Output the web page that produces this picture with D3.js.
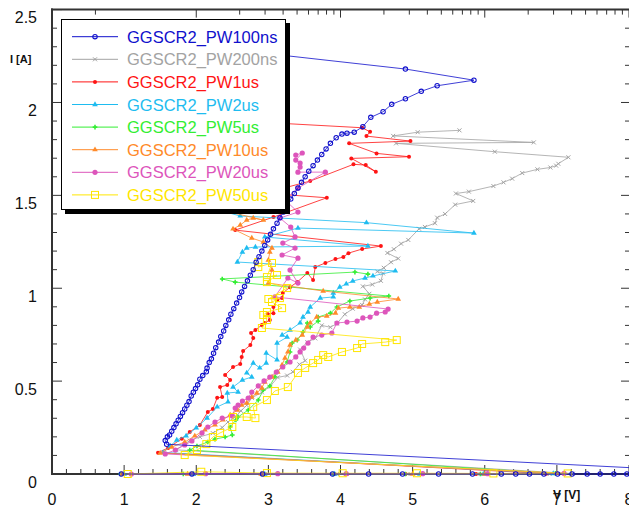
<!DOCTYPE html>
<html><head><meta charset="utf-8">
<script src="https://cdn.jsdelivr.net/npm/d3@7"></script>
<style>body{margin:0;background:#fff}svg{display:block}text{font-family:"Liberation Sans",Arial,sans-serif}</style>
</head><body><svg id="c" width="629" height="508"></svg>
<script>
// ---------- data ----------
const xTickLabels = [0,1,2,3,4,5,6,7,8];
const yTickLabels = [0,0.5,1,1.5,2,2.5];
const seriesNames = ["GGSCR2_PW100ns","GGSCR2_PW200ns","GGSCR2_PW1us","GGSCR2_PW2us","GGSCR2_PW5us","GGSCR2_PW10us","GGSCR2_PW20us","GGSCR2_PW50us"];

const pw100ns = [[0.96,0],[1.94,0],[2.92,0],[3.89,0],[4.39,0],[4.86,0],[5.36,0],[5.83,0],[6.23,0],[6.43,0],[6.62,0],[6.82,0],[7.01,0],[7.21,0],[7.42,0],[7.6,0],[7.79,0],[7.97,0],[8.2,0.002],[8.5,0.003],[8.8,0.004],[9.1,0.004],[9.5,0.005],
[1.59,0.16],[1.57,0.18],[1.60,0.20],[1.63,0.21],[1.66,0.23],[1.69,0.25],[1.72,0.27],[1.75,0.29],[1.78,0.31],[1.81,0.33],[1.84,0.35],[1.87,0.37],[1.90,0.39],[1.93,0.42],[1.96,0.44],[1.99,0.46],[2.02,0.48],[2.05,0.51],[2.09,0.53],[2.14,0.55],[2.15,0.57],[2.18,0.60],[2.21,0.62],[2.24,0.65],[2.27,0.68],[2.31,0.71],[2.34,0.74],[2.38,0.77],[2.41,0.80],[2.45,0.83],[2.48,0.86],[2.52,0.89],[2.56,0.92],[2.60,0.95],[2.63,0.98],[2.67,1.01],[2.71,1.04],[2.75,1.07],[2.79,1.10],[2.83,1.14],[2.87,1.17],[2.91,1.20],[2.95,1.23],[2.99,1.26],[3.03,1.29],[3.07,1.32],[3.12,1.35],[3.16,1.38],[3.21,1.41],[3.26,1.44],[3.31,1.48],[3.36,1.51],[3.41,1.54],[3.46,1.57],[3.51,1.60],[3.56,1.63],[3.62,1.66],[3.68,1.69],[3.74,1.72],[3.80,1.75],[3.86,1.78],[3.94,1.81],[4.02,1.83],[4.09,1.835],[4.19,1.84],[4.31,1.87],[4.42,1.92],[4.59,1.95],[4.71,1.99],[4.90,2.02],[5.12,2.06],[5.34,2.09],[5.85,2.12],[4.90,2.18],[2.60,2.28]];

const pw200ns = [[0.98,0],[1.97,0],[2.95,0],[3.95,0],[4.93,0],[5.9,0],[6.9,0],[7.22,0.002],
[1.72,0.13],[1.91,0.18],[2.05,0.20],[2.23,0.22],[2.36,0.25],[2.44,0.28],[2.55,0.31],[2.62,0.34],[2.70,0.37],[2.77,0.41],[2.91,0.44],[3.02,0.47],[3.13,0.52],[3.26,0.53],[3.34,0.55],[3.43,0.59],[3.51,0.61],[3.44,0.67],[3.54,0.71],[3.65,0.73],[3.74,0.80],[3.86,0.79],[3.95,0.81],[4.06,0.86],[4.17,0.89],[4.30,0.91],[4.34,0.94],[4.40,0.97],[4.31,1.01],[4.44,1.02],[4.56,1.04],[4.59,1.08],[4.51,1.09],[4.60,1.11],[4.70,1.14],[4.80,1.16],[4.65,1.19],[4.74,1.21],[4.84,1.24],[4.94,1.26],[5.09,1.32],[5.17,1.33],[5.31,1.35],[5.34,1.38],[5.45,1.40],[5.59,1.45],[5.84,1.47],[5.60,1.51],[5.78,1.52],[6.12,1.55],[6.26,1.57],[6.38,1.59],[6.52,1.62],[6.73,1.64],[6.91,1.65],[6.99,1.66],[7.02,1.67],[7.16,1.705],[6.14,1.735],[4.77,1.78],[6.68,1.785],[4.73,1.82],[5.07,1.84],[5.65,1.85]];

const pw1us = [[0.97,0],[1.95,0],[2.93,0],[3.92,0],[4.9,0],[5.88,0],[6.85,0.002],
[1.47,0.115],[1.61,0.14],[1.80,0.19],[1.91,0.226],[2.05,0.264],[2.16,0.334],[2.23,0.35],[2.29,0.41],[2.36,0.414],[2.33,0.468],[2.43,0.479],[2.47,0.506],[2.40,0.533],[2.51,0.576],[2.61,0.592],[2.63,0.63],[2.65,0.662],[2.75,0.694],[2.79,0.732],[2.76,0.759],[2.82,0.775],[2.91,0.802],[2.95,0.813],[3.02,0.829],[2.99,0.861],[3.07,0.866],[3.07,0.899],[3.12,0.936],[3.19,0.947],[3.20,0.974],[3.30,1.006],[3.40,1.033],[3.54,1.082],[3.62,1.044],[3.65,1.114],[3.79,1.136],[3.93,1.157],[4.04,1.168],[4.11,1.189],[4.30,1.211],[4.56,1.227],[2.54,1.313],[3.07,1.383],[3.81,1.487],[2.95,1.512],[3.58,1.577],[4.18,1.667],[4.35,1.663],[4.49,1.627],[4.15,1.699],[4.95,1.708],[4.50,1.726],[4.12,1.78],[4.97,1.792],[4.36,1.819],[4.41,1.842],[4.30,1.864],[2.88,1.894]];

const pw2us = [[1.0,0],[1.96,0],[2.95,0],[3.92,0],[5.1,0],[5.98,0],[6.95,0.002],
[1.54,0.116],[1.64,0.151],[1.73,0.183],[1.86,0.205],[2.00,0.248],[2.15,0.301],[2.29,0.361],[2.44,0.388],[2.43,0.436],[2.58,0.441],[2.51,0.468],[2.64,0.506],[2.77,0.522],[2.70,0.544],[2.79,0.597],[2.88,0.571],[2.97,0.597],[2.97,0.651],[3.12,0.614],[3.12,0.705],[3.26,0.737],[3.19,0.748],[3.30,0.775],[3.44,0.813],[3.48,0.845],[3.55,0.872],[3.58,0.899],[3.72,0.947],[3.90,0.953],[3.90,0.974],[3.99,1.006],[4.08,1.023],[4.17,1.039],[4.34,1.055],[4.45,1.066],[4.76,1.093],[2.57,1.141],[2.64,1.195],[2.70,1.216],[2.82,1.222],[4.38,1.227],[2.95,1.276],[3.41,1.324],[5.85,1.297],[4.36,1.353],[2.61,1.389],[2.05,1.448]];

const pw5us = [[0.95,0],[1.82,0],[2.9,0],[3.9,0],[4.9,0],[5.94,0],[6.98,0.003],
[1.91,0.129],[2.01,0.151],[2.16,0.172],[2.26,0.188],[2.40,0.199],[2.50,0.21],[2.47,0.253],[2.55,0.291],[2.58,0.307],[2.72,0.344],[2.86,0.398],[2.93,0.452],[3.02,0.474],[3.09,0.522],[3.12,0.549],[3.26,0.603],[3.30,0.657],[3.33,0.705],[3.40,0.721],[3.48,0.764],[3.54,0.813],[3.58,0.791],[3.69,0.823],[3.69,0.845],[3.86,0.866],[3.95,0.899],[4.13,0.931],[4.41,0.947],[4.67,0.958],[2.54,1.033],[2.36,1.05],[4.20,1.087],[4.38,1.076]];

const pw10us = [[0.97,0],[1.88,0],[2.9,0],[4.08,0],[5.0,0],[6.0,0],[7.0,0.003],
[1.50,0.113],[1.66,0.145],[1.84,0.172],[1.98,0.205],[2.12,0.237],[2.26,0.264],[2.37,0.291],[2.47,0.318],[2.57,0.344],[2.63,0.371],[2.70,0.382],[2.77,0.414],[2.84,0.436],[2.91,0.463],[2.95,0.495],[3.05,0.522],[3.13,0.549],[3.19,0.587],[3.23,0.624],[3.27,0.657],[3.30,0.694],[3.38,0.721],[3.47,0.748],[3.54,0.791],[3.58,0.813],[3.67,0.845],[3.81,0.850],[3.93,0.866],[3.97,0.893],[4.13,0.899],[4.26,0.899],[4.40,0.915],[4.51,0.926],[4.80,0.942],[3.76,0.985],[3.00,1.028],[3.05,1.098],[3.00,1.152],[3.02,1.195],[3.05,1.216],[2.93,1.249],[2.77,1.270],[2.51,1.319],[2.61,1.340],[2.70,1.367],[2.79,1.378],[2.93,1.367],[2.05,1.448]];

const pw20us = [[1.1,0],[2.13,0.002],[3.13,0.002],[4.08,0.002],[5.14,0.002],[6.04,0.002],[7.1,0.003],
[1.57,0.108],[1.71,0.129],[1.84,0.156],[1.94,0.178],[2.08,0.221],[2.16,0.253],[2.26,0.28],[2.36,0.301],[2.50,0.312],[2.54,0.355],[2.58,0.371],[2.64,0.393],[2.72,0.409],[2.77,0.441],[2.86,0.474],[2.94,0.501],[3.02,0.522],[3.11,0.549],[3.20,0.576],[3.30,0.603],[3.38,0.630],[3.44,0.657],[3.49,0.678],[3.55,0.705],[3.62,0.737],[3.74,0.748],[3.88,0.759],[3.95,0.813],[4.09,0.818],[4.23,0.823],[4.31,0.84],[4.41,0.845],[4.50,0.866],[4.62,0.872],[4.66,0.888],[3.09,0.953],[3.27,1.055],[3.41,1.028],[3.30,1.098],[3.41,1.162],[3.19,1.179],[3.37,1.216],[3.20,1.243],[3.37,1.276],[3.31,1.329],[3.16,1.378],[3.41,1.410],[3.23,1.475],[3.41,1.539],[3.79,1.625],[3.41,1.625],[3.44,1.652],[3.44,1.674],[3.38,1.69],[3.47,1.728],[3.38,1.717]];

const pw50us = [[1.05,0],[2.07,0.012],[2.98,0.005],[4.03,0.004],[5.06,0.004],[6.12,0.003],[7.15,0.003],
[1.84,0.102],[2.01,0.129],[2.14,0.161],[2.23,0.199],[2.33,0.221],[2.50,0.253],[2.51,0.307],[2.70,0.307],[2.82,0.301],[2.79,0.361],[2.98,0.398],[3.09,0.447],[3.27,0.468],[3.41,0.544],[3.51,0.571],[3.62,0.597],[3.69,0.614],[3.76,0.64],[3.83,0.63],[4.02,0.657],[4.23,0.678],[4.30,0.70],[4.62,0.71],[4.78,0.721],[2.91,0.786],[2.98,0.829],[2.93,0.856],[2.98,0.872],[3.19,0.893],[3.05,0.926],[3.16,0.947],[3.00,0.942],[3.26,1.001],[2.98,1.033],[3.12,1.071],[2.98,1.060],[3.05,1.136],[2.86,1.114],[2.86,1.141]];

// ---------- styles ----------
const seriesData = [pw100ns,pw200ns,pw1us,pw2us,pw5us,pw10us,pw20us,pw50us];
const seriesColors = ["#1010cc","#a3a3a3","#ff1414","#1ebcf0","#33ee33","#ff8a2a","#dd55bb","#ffe600"];
const seriesMarkers = ["circleOpen","x","dot","tri","plus","tri","dotBig","square"];
const drawOrder = [1,2,3,4,5,6,7,0];

const svg = d3.select("#c");
const x = d3.scaleLinear().domain([0,8]).range([52,629]);
const y = d3.scaleLinear().domain([0,2.5]).range([474,9.6]);
const topLog = d3.scaleLog().domain([1e-12,1e-8]).range([52,629]);

svg.append("defs").append("clipPath").attr("id","pc").append("rect")
  .attr("x",45).attr("y",5).attr("width",600).attr("height",477);

function marker(sel, type, color){
  switch(type){
    case "circleOpen": sel.append("circle").attr("r",2.2).attr("fill","none").attr("stroke",color).attr("stroke-width",1.1); break;
    case "x": sel.append("path").attr("d","M-2,-2L2,2M-2,2L2,-2").attr("stroke",color).attr("stroke-width",1); break;
    case "dot": sel.append("circle").attr("r",2).attr("fill",color); break;
    case "tri": sel.append("path").attr("d",d3.symbol(d3.symbolTriangle,14)()).attr("fill",color); break;
    case "plus": sel.append("path").attr("d",d3.symbol(d3.symbolCross,12)()).attr("fill",color); break;
    case "dotBig": sel.append("circle").attr("r",2.6).attr("fill",color); break;
    case "square": sel.append("rect").attr("x",-3.5).attr("y",-3.5).attr("width",7).attr("height",7).attr("fill","none").attr("stroke",color).attr("stroke-width",1); break;
  }
}

// ---------- axes ----------
const ax = svg.append("g").attr("stroke","#333").attr("fill","none");
d3.range(0,26).forEach(i=>{
  const v=i/10, major = i%5===0;
  ax.append("line").attr("x1",x(0)).attr("x2",x(0)+(major?10:5)).attr("y1",y(v)).attr("y2",y(v));
  ax.append("line").attr("x1",x(8)).attr("x2",x(8)-(major?8:4)).attr("y1",y(v)).attr("y2",y(v));
});
d3.range(0,41).forEach(i=>{
  const v=i/5, major=i%5===0;
  ax.append("line").attr("x1",x(v)).attr("x2",x(v)).attr("y1",y(0)).attr("y2",y(0)-(major?9:5));
});
topLog.ticks().filter(t=>t>=1e-11 || Math.abs(t-2e-12)<1e-15 || Math.abs(t-1e-12)<1e-15).forEach(t=>{
  const p = Math.log10(t), major = Math.abs(p-Math.round(p))<1e-6;
  ax.append("line").attr("x1",topLog(t)).attr("x2",topLog(t)).attr("y1",y(2.5)).attr("y2",y(2.5)+(major?8:5));
});
ax.append("line").attr("x1",x(0)).attr("x2",x(0)).attr("y1",y(0)+1).attr("y2",y(2.5)-1).attr("stroke-width",2);
ax.append("line").attr("x1",x(0)-1).attr("x2",x(8)).attr("y1",y(0)).attr("y2",y(0)).attr("stroke-width",2);
ax.append("line").attr("x1",x(0)-1).attr("x2",x(8)).attr("y1",y(2.5)).attr("y2",y(2.5)).attr("stroke-width",2);

svg.append("g").selectAll("text").data(yTickLabels).join("text")
  .attr("x",37).attr("y",d=>y(d)+13.5).attr("text-anchor","end")
  .attr("font-size",16).attr("fill","#111").text(d=>d);
svg.append("g").selectAll("text").data(xTickLabels).join("text")
  .attr("x",d=>x(d)).attr("y",505).attr("text-anchor","middle")
  .attr("font-size",16).attr("fill","#111").text(d=>d);
svg.append("text").attr("x",10).attr("y",63).attr("font-size",11).attr("font-weight","bold").attr("fill","#111").text("I [A]");
svg.append("text").attr("x",553).attr("y",499).attr("font-size",12).attr("font-weight","bold").attr("fill","#111").text("V [V]");

// ---------- series ----------
const plot = svg.append("g").attr("clip-path","url(#pc)");
const line = d3.line().x(d=>x(d[0])).y(d=>y(d[1]));
drawOrder.forEach(k=>{
  const g = plot.append("g");
  g.append("path").attr("d",line(seriesData[k])).attr("fill","none")
    .attr("stroke",seriesColors[k]).attr("stroke-width",1).attr("stroke-opacity",0.8);
  g.selectAll("g.m").data(seriesData[k]).join("g").attr("class","m")
    .attr("transform",d=>`translate(${x(d[0])},${y(d[1])})`)
    .each(function(){ marker(d3.select(this), seriesMarkers[k], seriesColors[k]); });
});

// ---------- legend ----------
const lg = svg.append("g");
lg.append("rect").attr("x",65).attr("y",23).attr("width",225).attr("height",191).attr("fill","#000");
lg.append("rect").attr("x",61.5).attr("y",19.5).attr("width",224).attr("height",190).attr("fill","#fff").attr("stroke","#000").attr("stroke-width",1);
seriesNames.forEach((n,i)=>{
  const cy = 36.7 + i*22.6;
  lg.append("line").attr("x1",72).attr("x2",118).attr("y1",cy).attr("y2",cy).attr("stroke",seriesColors[i]).attr("stroke-width",1);
  marker(lg.append("g").attr("transform",`translate(95,${cy})`), seriesMarkers[i], seriesColors[i]);
  lg.append("text").attr("x",127).attr("y",cy+6).attr("font-size",16.5).attr("fill",seriesColors[i]).text(n);
});
</script>
</body></html>
